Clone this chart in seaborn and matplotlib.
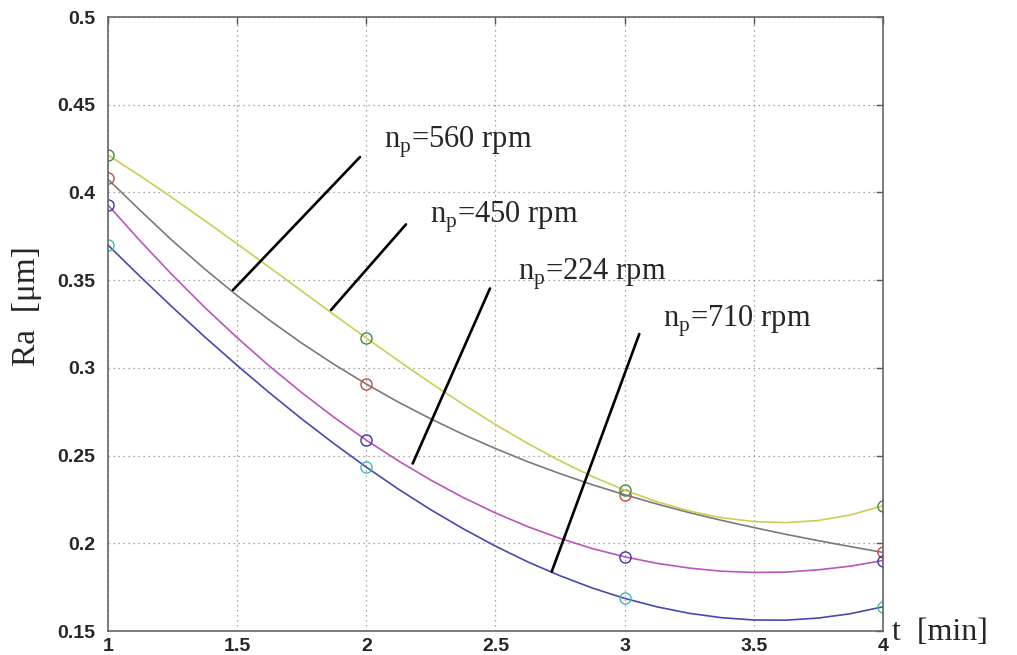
import numpy as np
import pandas as pd
import matplotlib
matplotlib.use("Agg")
import matplotlib.pyplot as plt
from matplotlib.ticker import FormatStrFormatter
import seaborn as sns

# measured points (circles)
t_meas = [1, 2, 3, 4]
ra_560 = [0.4082, 0.2908, 0.2277, 0.1948]
ra_450 = [0.4213, 0.3170, 0.2303, 0.2214]
ra_224 = [0.3928, 0.2588, 0.1923, 0.1902]
ra_710 = [0.3700, 0.2434, 0.1686, 0.1638]

# fitted curves, every 0.125 min
t_fit = [1, 1.125, 1.25, 1.375, 1.5, 1.625, 1.75, 1.875, 2, 2.125, 2.25,
         2.375, 2.5, 2.625, 2.75, 2.875, 3, 3.125, 3.25, 3.375, 3.5,
         3.625, 3.75, 3.875, 4]
fit_560 = [0.4075, 0.3897, 0.3724, 0.3563, 0.3412, 0.3272, 0.3141, 0.3020,
           0.2908, 0.2804, 0.2709, 0.2621, 0.2540, 0.2465, 0.2397, 0.2334,
           0.2277, 0.2224, 0.2175, 0.2131, 0.2090, 0.2051, 0.2015, 0.1981,
           0.1948]
fit_450 = [0.4213, 0.4094, 0.3969, 0.3839, 0.3707, 0.3573, 0.3438, 0.3303,
           0.3170, 0.3040, 0.2913, 0.2792, 0.2677, 0.2569, 0.2470, 0.2381,
           0.2303, 0.2237, 0.2184, 0.2146, 0.2124, 0.2118, 0.2130, 0.2162,
           0.2214]
fit_224 = [0.3928, 0.3723, 0.3528, 0.3344, 0.3172, 0.3010, 0.2859, 0.2718,
           0.2588, 0.2469, 0.2360, 0.2261, 0.2173, 0.2095, 0.2028, 0.1970,
           0.1923, 0.1886, 0.1859, 0.1841, 0.1834, 0.1836, 0.1849, 0.1870,
           0.1902]
fit_710 = [0.3700, 0.3520, 0.3345, 0.3176, 0.3014, 0.2858, 0.2709, 0.2568,
           0.2434, 0.2308, 0.2191, 0.2083, 0.1984, 0.1894, 0.1815, 0.1745,
           0.1686, 0.1638, 0.1601, 0.1576, 0.1563, 0.1562, 0.1574, 0.1599,
           0.1638]

labels = ["560", "450", "224", "710"]
curve_colors = ["#7a7a7a", "#cdcd55", "#bb55bb", "#4848b0"]
marker_colors = ["#cc4848", "#3f8f3f", "#4035a8", "#45b8b8"]

meas = [ra_560, ra_450, ra_224, ra_710]
fits = [fit_560, fit_450, fit_224, fit_710]

sns.set_style("white")
plt.rcParams["font.family"] = ["Liberation Sans", "DejaVu Sans"]
plt.rcParams["mathtext.fontset"] = "custom"
plt.rcParams["mathtext.rm"] = "Liberation Serif"

fig = plt.figure(figsize=(10.17, 6.55), dpi=100)
ax = fig.add_axes([0.1062, 0.0366, 0.762, 0.9374])

for lab, fy, my, cc, mc in zip(labels, fits, meas, curve_colors, marker_colors):
    df_fit = pd.DataFrame({"t": t_fit, "Ra": fy})
    sns.lineplot(data=df_fit, x="t", y="Ra", color=cc, linewidth=1.2, ax=ax)
    df_m = pd.DataFrame({"t": t_meas, "Ra": my})
    sns.lineplot(data=df_m, x="t", y="Ra", color=mc, linestyle="none",
                 marker="o", markersize=8, markerfacecolor="none",
                 markeredgecolor=mc, markeredgewidth=1.0, ax=ax)

# leader lines with labels: (text pos, line start, line end)
notes = [
    ("560", (2.068, 0.4255), (1.9755, 0.4202), (1.484, 0.3444)),
    ("450", (2.2465, 0.3824), (2.1536, 0.3818), (1.8632, 0.3330)),
    ("224", (2.588, 0.3500), (2.4787, 0.3453), (2.1795, 0.2455)),
    ("710", (3.1497, 0.3234), (3.0567, 0.3193), (2.7175, 0.1838)),
]
for lab, tp, p0, p1 in notes:
    ax.annotate("", xy=p1, xytext=p0,
                arrowprops=dict(arrowstyle="-", color="black", lw=1.9,
                                shrinkA=0, shrinkB=0))
    ax.text(tp[0], tp[1], r"n$_{\mathregular{p}}$=" + lab + " rpm",
            family="Liberation Serif", fontsize=22, ha="left", va="baseline")

ax.set_xlim(1, 4)
ax.set_ylim(0.15, 0.5)
ax.set_xticks([1, 1.5, 2, 2.5, 3, 3.5, 4])
ax.set_yticks([0.15, 0.2, 0.25, 0.3, 0.35, 0.4, 0.45, 0.5])
ax.xaxis.set_major_formatter(FormatStrFormatter("%g"))
ax.yaxis.set_major_formatter(FormatStrFormatter("%g"))
ax.grid(True, linestyle=(0, (1, 3)), color="#8a8a8a", linewidth=0.9)
ax.tick_params(direction="in", length=5, width=1, color="#555555",
               top=True, right=True, labelsize=14)
ax.tick_params(axis="x", pad=5)
ax.tick_params(axis="y", pad=9)
for lbl in ax.get_xticklabels() + ax.get_yticklabels():
    lbl.set_fontweight("bold")
for sp in ax.spines.values():
    sp.set_color("#666666")
    sp.set_linewidth(1.2)

ax.set_ylabel("Ra  [\u03bcm]", family="Liberation Serif", fontsize=24)
ax.yaxis.set_label_coords(-0.085, 0.53)
ax.set_xlabel("t  [min]", family="Liberation Serif", fontsize=23, ha="left")
ax.xaxis.set_label_coords(1.012, 0.022)

fig.savefig("out.png", dpi=100)
